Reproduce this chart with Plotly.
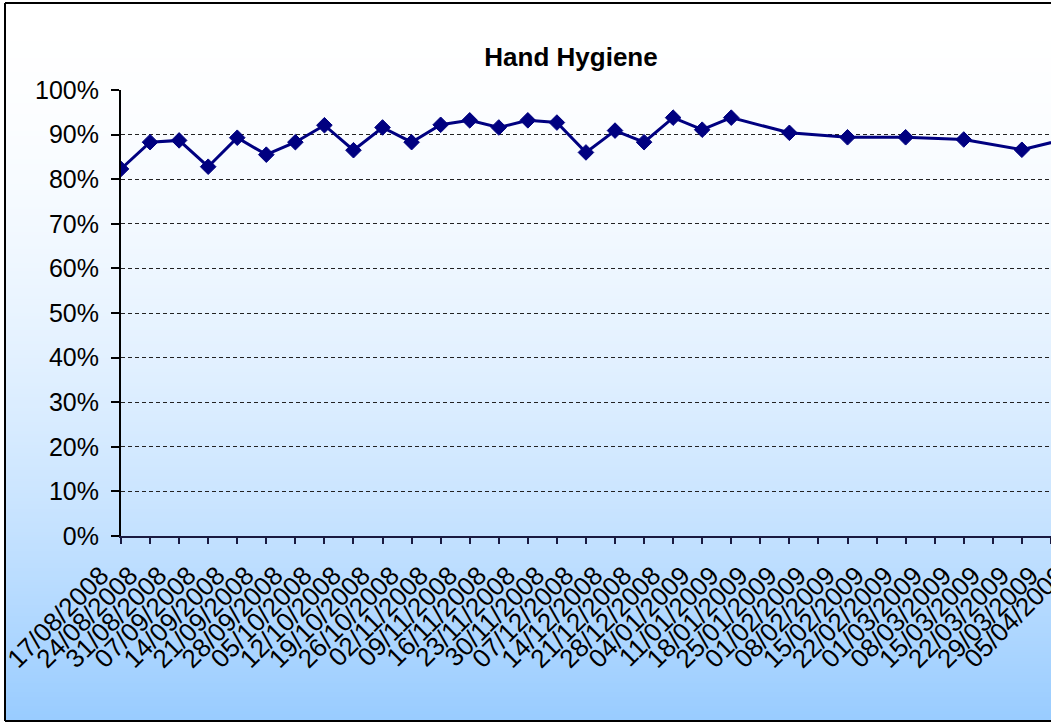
import zlib, struct, base64
import pandas as pd
import plotly.graph_objects as go

# ---------------- data ----------------
dates = ["2008-08-17", "2008-08-24", "2008-08-31", "2008-09-07", "2008-09-14",
         "2008-09-21", "2008-09-28", "2008-10-05", "2008-10-12", "2008-10-19",
         "2008-10-26", "2008-11-02", "2008-11-09", "2008-11-16", "2008-11-23",
         "2008-11-30", "2008-12-07", "2008-12-14", "2008-12-21", "2008-12-28",
         "2009-01-04", "2009-01-11", "2009-01-25", "2009-02-08", "2009-02-22",
         "2009-03-08", "2009-03-22", "2009-04-05"]
compliance = [0.823, 0.883, 0.887, 0.828, 0.893, 0.855, 0.883, 0.921, 0.865, 0.916,
              0.883, 0.922, 0.932, 0.916, 0.932, 0.927, 0.860, 0.909, 0.883, 0.938,
              0.911, 0.938, 0.904, 0.894, 0.894, 0.889, 0.866, 0.898]
tick_dates = ["2008-08-17", "2008-08-24", "2008-08-31", "2008-09-07", "2008-09-14",
              "2008-09-21", "2008-09-28", "2008-10-05", "2008-10-12", "2008-10-19",
              "2008-10-26", "2008-11-02", "2008-11-09", "2008-11-16", "2008-11-23",
              "2008-11-30", "2008-12-07", "2008-12-14", "2008-12-21", "2008-12-28",
              "2009-01-04", "2009-01-11", "2009-01-18", "2009-01-25", "2009-02-01",
              "2009-02-08", "2009-02-15", "2009-02-22", "2009-03-01", "2009-03-08",
              "2009-03-15", "2009-03-22", "2009-03-29"]
tick_labels = ["17/08/2008", "24/08/2008", "31/08/2008", "07/09/2008", "14/09/2008",
               "21/09/2008", "28/09/2008", "05/10/2008", "12/10/2008", "19/10/2008",
               "26/10/2008", "02/11/2008", "09/11/2008", "16/11/2008", "23/11/2008",
               "30/11/2008", "07/12/2008", "14/12/2008", "21/12/2008", "28/12/2008",
               "04/01/2009", "11/01/2009", "18/01/2009", "25/01/2009", "01/02/2009",
               "08/02/2009", "15/02/2009", "22/02/2009", "01/03/2009", "08/03/2009",
               "15/03/2009", "22/03/2009", "29/03/2009"]
cut_label = "05/04/2009"
title_text = "Hand Hygiene"

# ---------------- geometry ----------------
W, H = 1051, 724
L, T, B, R = 121, 90, 188, 0
PX_PER_DAY = 29.06 / 7.0
start = pd.Timestamp(dates[0])
end = start + pd.Timedelta(days=(W - L - R) / PX_PER_DAY)


def px(x):
    return (x - L) / (W - L - R)


def py(y):
    return (H - B - y) / (H - T - B)


# ---------------- gradient background image ----------------
def gradient_png(n=256):
    top = (255, 255, 255)
    bot = (153, 204, 255)
    raw = b""
    for i in range(n):
        t = i / (n - 1)
        f = t ** 1.8
        rgb = bytes(int(round(a + (b - a) * f)) for a, b in zip(top, bot))
        raw += b"\x00" + rgb

    def chunk(tag, data):
        return (struct.pack(">I", len(data)) + tag + data +
                struct.pack(">I", zlib.crc32(tag + data) & 0xFFFFFFFF))

    png = (b"\x89PNG\r\n\x1a\n" +
           chunk(b"IHDR", struct.pack(">IIBBBBB", 1, n, 8, 2, 0, 0, 0)) +
           chunk(b"IDAT", zlib.compress(raw)) + chunk(b"IEND", b""))
    return "data:image/png;base64," + base64.b64encode(png).decode()


FONT = "Arial, 'Liberation Sans', sans-serif"
NAVY = "#000080"

fig = go.Figure()
fig.add_trace(go.Scatter(
    x=pd.to_datetime(dates), y=compliance, mode="lines+markers",
    line=dict(color=NAVY, width=3),
    marker=dict(symbol="diamond", size=12, color=NAVY,
                line=dict(color=NAVY, width=1)),
    showlegend=False, cliponaxis=True,
))

fig.update_layout(
    width=W, height=H,
    margin=dict(l=L, r=R, t=T, b=B, pad=0),
    paper_bgcolor="white",
    plot_bgcolor="rgba(0,0,0,0)",
    font=dict(family=FONT, color="black"),
    title=dict(text=title_text, xref="container", yref="container",
               x=571 / W, y=1 - 57 / H, xanchor="center", yanchor="middle",
               font=dict(family=FONT, size=26, color="black", weight=700)),
    images=[dict(source=gradient_png(), xref="paper", yref="paper",
                 x=px(5), y=py(3), sizex=px(W + 2) - px(5), sizey=py(3) - py(721),
                 xanchor="left", yanchor="top", sizing="stretch", layer="below")],
    shapes=[
        dict(type="line", xref="paper", yref="paper", x0=px(5), x1=px(5),
             y0=py(3), y1=py(721), line=dict(color="black", width=2)),
        dict(type="line", xref="paper", yref="paper", x0=px(5), x1=px(W + 2),
             y0=py(3), y1=py(3), line=dict(color="black", width=2)),
        dict(type="line", xref="paper", yref="paper", x0=px(5), x1=px(W + 2),
             y0=py(721), y1=py(721), line=dict(color="black", width=2)),
    ],
    annotations=[dict(text=cut_label, xref="paper", yref="paper",
                      x=px(1074), y=py(558), xanchor="right", yanchor="top",
                      textangle=-45, showarrow=False,
                      font=dict(family=FONT, size=26, color="black"))],
)

fig.update_xaxes(
    type="date", range=[start, end], autorange=False, automargin=False,
    tickmode="array", tickvals=pd.to_datetime(tick_dates), ticktext=tick_labels,
    tickangle=-45, tickfont=dict(family=FONT, size=26, color="black"),
    ticklabelstandoff=6, ticklabelshift=-20,
    ticks="outside", ticklen=6, tickwidth=1.5, tickcolor="#1a1a40",
    showline=True, linecolor="#1a1a40", linewidth=2,
    showgrid=False, zeroline=False,
)
fig.update_yaxes(
    range=[0, 1], autorange=False, automargin=False,
    tickmode="linear", tick0=0, dtick=0.1, tickformat=".0%",
    tickfont=dict(family=FONT, size=25, color="black"),
    ticks="outside", ticklen=8, tickwidth=1.5, tickcolor="black",
    ticklabelstandoff=7,
    showline=True, linecolor="black", linewidth=2,
    showgrid=True, gridcolor="#222222", gridwidth=1, griddash="4px,3px",
    zeroline=False,
)

fig.write_html("out.html")
